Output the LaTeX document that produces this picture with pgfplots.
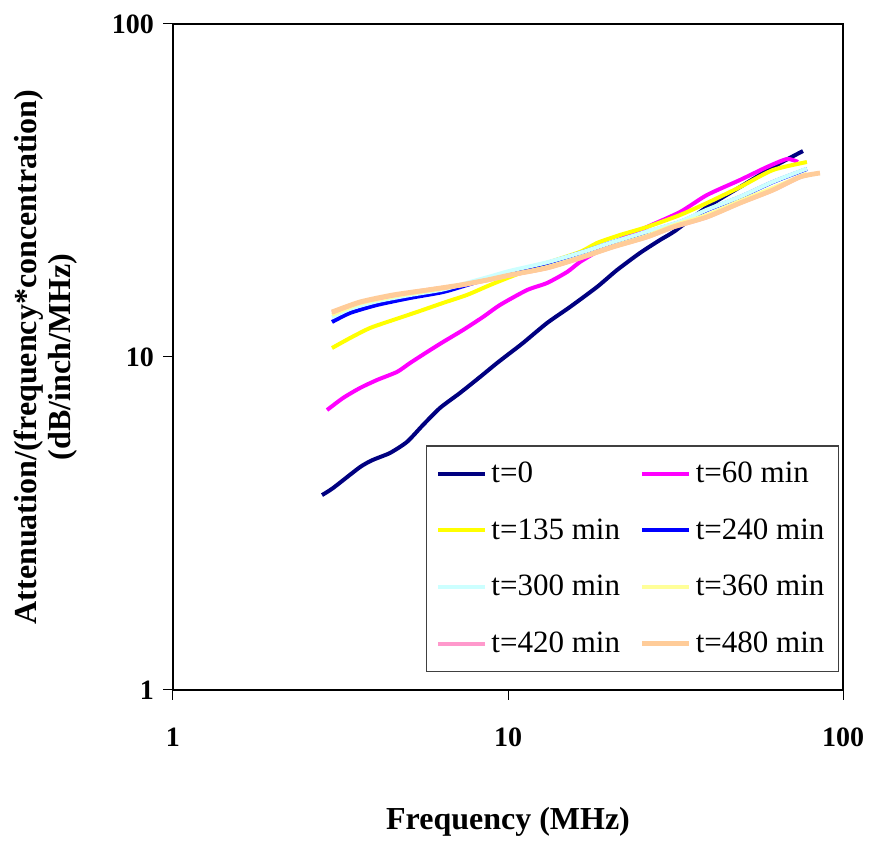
\documentclass[border=0pt]{standalone}
\usepackage{pgfplots}
\pgfplotsset{compat=1.18}
\usepackage{fontspec}
\setmainfont{Liberation Serif}
\definecolor{cNavy}{HTML}{000080}
\definecolor{cMag}{HTML}{FF00FF}
\definecolor{cYel}{HTML}{FFFF00}
\definecolor{cBlue}{HTML}{0000FF}
\definecolor{cCyan}{HTML}{CCFFFF}
\definecolor{cLYel}{HTML}{FFFF99}
\definecolor{cPink}{HTML}{FF99CC}
\definecolor{cPeach}{HTML}{FFCC99}
\begin{document}
\begin{tikzpicture}
\begin{axis}[
  scale only axis,
  width=335pt, height=333pt,
  xmode=log, ymode=log,
  xmin=1, xmax=100, ymin=1, ymax=100,
  xtick={1,10,100}, xticklabels={\textbf{1},\textbf{10},\textbf{100}},
  ytick={1,10,100}, yticklabels={\textbf{1},\textbf{10},\textbf{100}},
  xminorticks=false, yminorticks=false,
  xtick pos=bottom, ytick pos=left,
  tick align=outside, major tick length=5pt,
  tick style={black, line width=0.5pt},
  axis line style={black, line width=0.6pt},
  ticklabel style={font=\fontsize{14}{16}\selectfont},
  xticklabel style={yshift=-10.5pt},
  yticklabel style={xshift=-1pt},
  xlabel={\textbf{Frequency (MHz)}},
  ylabel={\textbf{Attenuation/(frequency*concentration)}\\\textbf{(dB/inch/MHz)}},
  xlabel style={font=\fontsize{16}{19}\selectfont, at={(axis description cs:0.5,-0.1982)}, anchor=center},
  ylabel style={font=\fontsize{16}{17}\selectfont, align=center, at={(axis description cs:-0.1896,0.5)}, anchor=center},
  legend columns=2,
  legend cell align=left,
  legend style={at={(axis description cs:1,0)}, anchor=south east, xshift=-2pt, yshift=9pt,
    draw=black!75, line width=0.6pt, font=\fontsize{15.5}{18}\selectfont,
    inner xsep=5pt, inner ysep=6pt, row sep=12.5pt,
    /tikz/every even column/.append style={column sep=8pt}},
  legend image code/.code={\draw[#1] (0pt,0pt) -- (23.5pt,0pt);},
  every axis plot/.append style={line width=2pt, smooth, tension=0.4},
]
\coordinate (sw) at (rel axis cs:0,0);
\addplot[cNavy] coordinates {(2.785,3.85)(3.004,4.04)(3.616,4.67)(3.954,4.91)(4.444,5.15)(4.995,5.56)(5.577,6.25)(6.266,7.03)(7.191,7.80)(8.251,8.71)(9.273,9.59)(10.14,10.28)(11.09,11.02)(13.08,12.65)(15.31,14.13)(18.44,16.23)(21.16,18.25)(24.77,20.53)(28.43,22.46)(31.5,23.9)(39.26,28.21)(49.27,32.39)(61.80,37.21)(75.95,41.55)};
\addlegendentry{t=0}
\addplot[cMag] coordinates {(2.883,6.93)(3.217,7.53)(3.616,8.07)(4.064,8.53)(4.664,9.02)(5.099,9.59)(5.732,10.35)(6.397,11.09)(7.340,12.05)(8.424,13.19)(9.465,14.33)(11.40,15.89)(13.08,16.68)(15.01,18.00)(16.40,19.29)(18.82,20.96)(22.05,22.78)(25.99,24.57)(32.62,27.25)(39.26,30.65)(49.27,34.01)(59.32,37.21)(68.07,39.32)(73.40,38.51)};
\addlegendentry{t=60 min}
\addplot[cYel] coordinates {(2.983,10.64)(3.377,11.40)(3.874,12.22)(4.536,12.91)(5.350,13.65)(6.397,14.53)(7.545,15.36)(8.840,16.45)(10.14,17.39)(13.08,19.16)(16.40,20.67)(18.44,22.00)(21.60,23.25)(25.99,24.57)(32.62,26.69)(39.26,29.00)(49.27,32.39)(61.80,36.44)(78.06,38.51)};
\addlegendentry{t=135 min}
\addplot[cBlue] coordinates {(2.983,12.74)(3.377,13.56)(4.064,14.33)(5.099,15.04)(6.397,15.67)(7.545,16.45)(8.840,17.27)(10.14,18.00)(13.08,19.16)(16.40,20.53)(20.58,22.14)(25.99,23.73)(32.62,25.43)(39.26,27.63)(49.27,30.23)(61.80,33.54)(78.06,36.70)};
\addlegendentry{t=240 min}
\addplot[cCyan] coordinates {(2.983,13.15)(3.377,13.95)(4.064,14.7)(5.099,15.35)(6.397,15.95)(7.545,16.7)(8.840,17.45)(10.14,18.15)(13.08,19.25)(16.40,20.55)(20.58,22.15)(25.99,23.8)(32.62,25.5)(39.26,27.7)(49.27,30.3)(61.80,33.6)(78.06,36.8)};
\addlegendentry{t=300 min}
\addplot[cLYel] coordinates {(2.983,13.4)(3.616,14.5)(4.536,15.2)(5.732,15.8)(7.191,16.4)(8.658,17.0)(10.14,17.6)(13.08,18.6)(16.40,19.9)(20.58,21.5)(25.99,23.1)(31.08,24.8)(39.26,26.7)(49.27,29.4)(61.80,32.2)(78.06,35.5)};
\addlegendentry{t=360 min}
\addplot[cPink] coordinates {(2.983,13.6)(3.616,14.6)(4.536,15.3)(5.732,15.9)(7.191,16.4)(8.658,17.0)(10.14,17.6)(13.08,18.5)(16.40,19.8)(20.58,21.4)(25.99,22.9)(31.08,24.5)(39.26,26.3)(49.27,29.0)(61.80,31.7)(74.40,34.7)(80.0,35.3)};
\addlegendentry{t=420 min}
\addplot[cPeach, line width=2.4pt] coordinates {(2.983,13.65)(3.616,14.63)(4.536,15.36)(5.732,15.89)(7.191,16.45)(8.658,17.03)(10.14,17.63)(13.08,18.51)(16.40,19.83)(20.58,21.40)(25.99,22.93)(31.08,24.57)(39.26,26.33)(49.27,29.00)(61.80,31.73)(74.40,34.72)(85.37,35.69)};
\addlegendentry{t=480 min}
\end{axis}
\pgfresetboundingbox
\path (sw) ++(-86.5pt,-78pt) rectangle ++(434.5pt,423pt);
\end{tikzpicture}
\end{document}
